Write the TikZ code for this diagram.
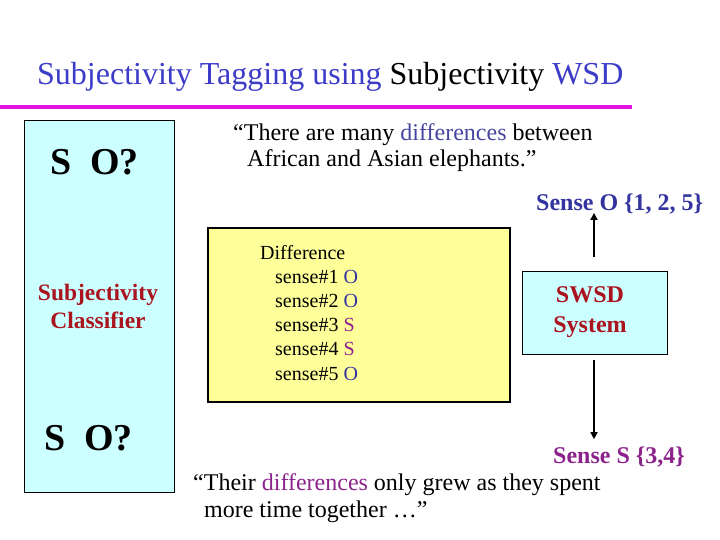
\documentclass[tikz,border=0pt]{standalone}
\usepackage{fontspec}
\setmainfont{Liberation Serif}
\usepackage{xcolor}
\usetikzlibrary{arrows.meta, positioning}
\definecolor{titleblue}{RGB}{60,60,200}
\definecolor{wordblue}{RGB}{70,70,160}
\definecolor{senseblue}{RGB}{51,51,160}
\definecolor{sensepurple}{RGB}{140,35,140}
\definecolor{darkred}{RGB}{170,20,30}
\definecolor{barmagenta}{RGB}{225,20,225}
\definecolor{boxcyan}{RGB}{204,255,255}
\definecolor{boxyellow}{RGB}{255,255,153}
\tikzset{%
	cyanbox/.style={
		draw,
		fill=boxcyan,
		line width=0.8pt
	},
	txt/.style={
		inner sep=0pt,
		anchor=base west,
		align=left
	},
	label24/.style={
		inner sep=0pt,
		anchor=base,
		align=center,
		text=darkred,
		font=\fontsize{24}{29}\selectfont\bfseries
	},
	flow/.style={
		-{Triangle[length=7pt,width=7pt]},
		line width=1.6pt
	},
}

\begin{document}
\begin{tikzpicture}[x=1pt,y=-1pt]
			\useasboundingbox (0,0) rectangle (720,540);
			
			% Draw the title and the bar under it
			\node[txt, text=titleblue, font=\fontsize{32}{36}\selectfont] (title) at (37,85) {Subjectivity Tagging using \textcolor{black}{Subjectivity} WSD};
			\draw[barmagenta, line width=4pt] (0,107) -- (632,107);
			
			% Draw the classifier column
			\draw[cyanbox] (24,120) rectangle (174,492);
			\node[txt, font=\fontsize{38}{40}\selectfont\bfseries] (soTop) at (50,175) {S\ \ O?};
			\node[label24, font=\fontsize{23.5}{28}\selectfont\bfseries] (classifier) at (98,328) {Subjectivity\\Classifier};
			\node[txt, font=\fontsize{38}{40}\selectfont\bfseries] (soBottom) at (44,450) {S\ \ O?};
			
			% Draw the first sentence
			\node[txt, font=\fontsize{24}{26}\selectfont] (quoteTop) at (233,167) {``There are many \textcolor{wordblue}{differences} between\\\hspace{14pt}African and Asian elephants.''};
			
			% Draw the sense inventory
			\draw[fill=boxyellow, line width=2pt] (208,228) rectangle (510,402);
			\node[txt, font=\fontsize{20}{24.2}\selectfont] (inventory) at (260,380) {Difference\\
				\hspace{15pt}sense\#1 \textcolor{senseblue}{O}\\
				\hspace{15pt}sense\#2 \textcolor{senseblue}{O}\\
				\hspace{15pt}sense\#3 \textcolor{sensepurple}{S}\\
				\hspace{15pt}sense\#4 \textcolor{sensepurple}{S}\\
				\hspace{15pt}sense\#5 \textcolor{senseblue}{O}};
			
			% Draw the SWSD box and its outputs
			\draw[cyanbox] (522,271) rectangle (667,354);
			\node[label24, font=\fontsize{24}{30}\selectfont\bfseries] (swsd) at (590,332) {SWSD\\System};
			\coordinate (swsdTop) at (594,257);
			\coordinate (swsdBottom) at (594,360);
			\node[txt, text=senseblue, font=\fontsize{24}{26}\selectfont\bfseries] (senseO) at (536,211) {Sense O \{1, 2, 5\}};
			\node[txt, text=sensepurple, font=\fontsize{24}{26}\selectfont\bfseries] (senseS) at (553,463) {Sense S \{3,4\}};
			\draw[flow] (swsdTop) -- ([yshift=2pt]swsdTop |- senseO.south);
			\draw[flow, shorten >=7pt] (swsdBottom) -- (swsdBottom |- senseS.north);
			
			% Draw the second sentence
			\node[txt, font=\fontsize{24}{27}\selectfont] (quoteBottom) at (193,517) {``Their \textcolor{sensepurple}{differences} only grew as they spent\\\hspace{11pt}more time together \ldots''};
			
		\end{tikzpicture}
\end{document}
